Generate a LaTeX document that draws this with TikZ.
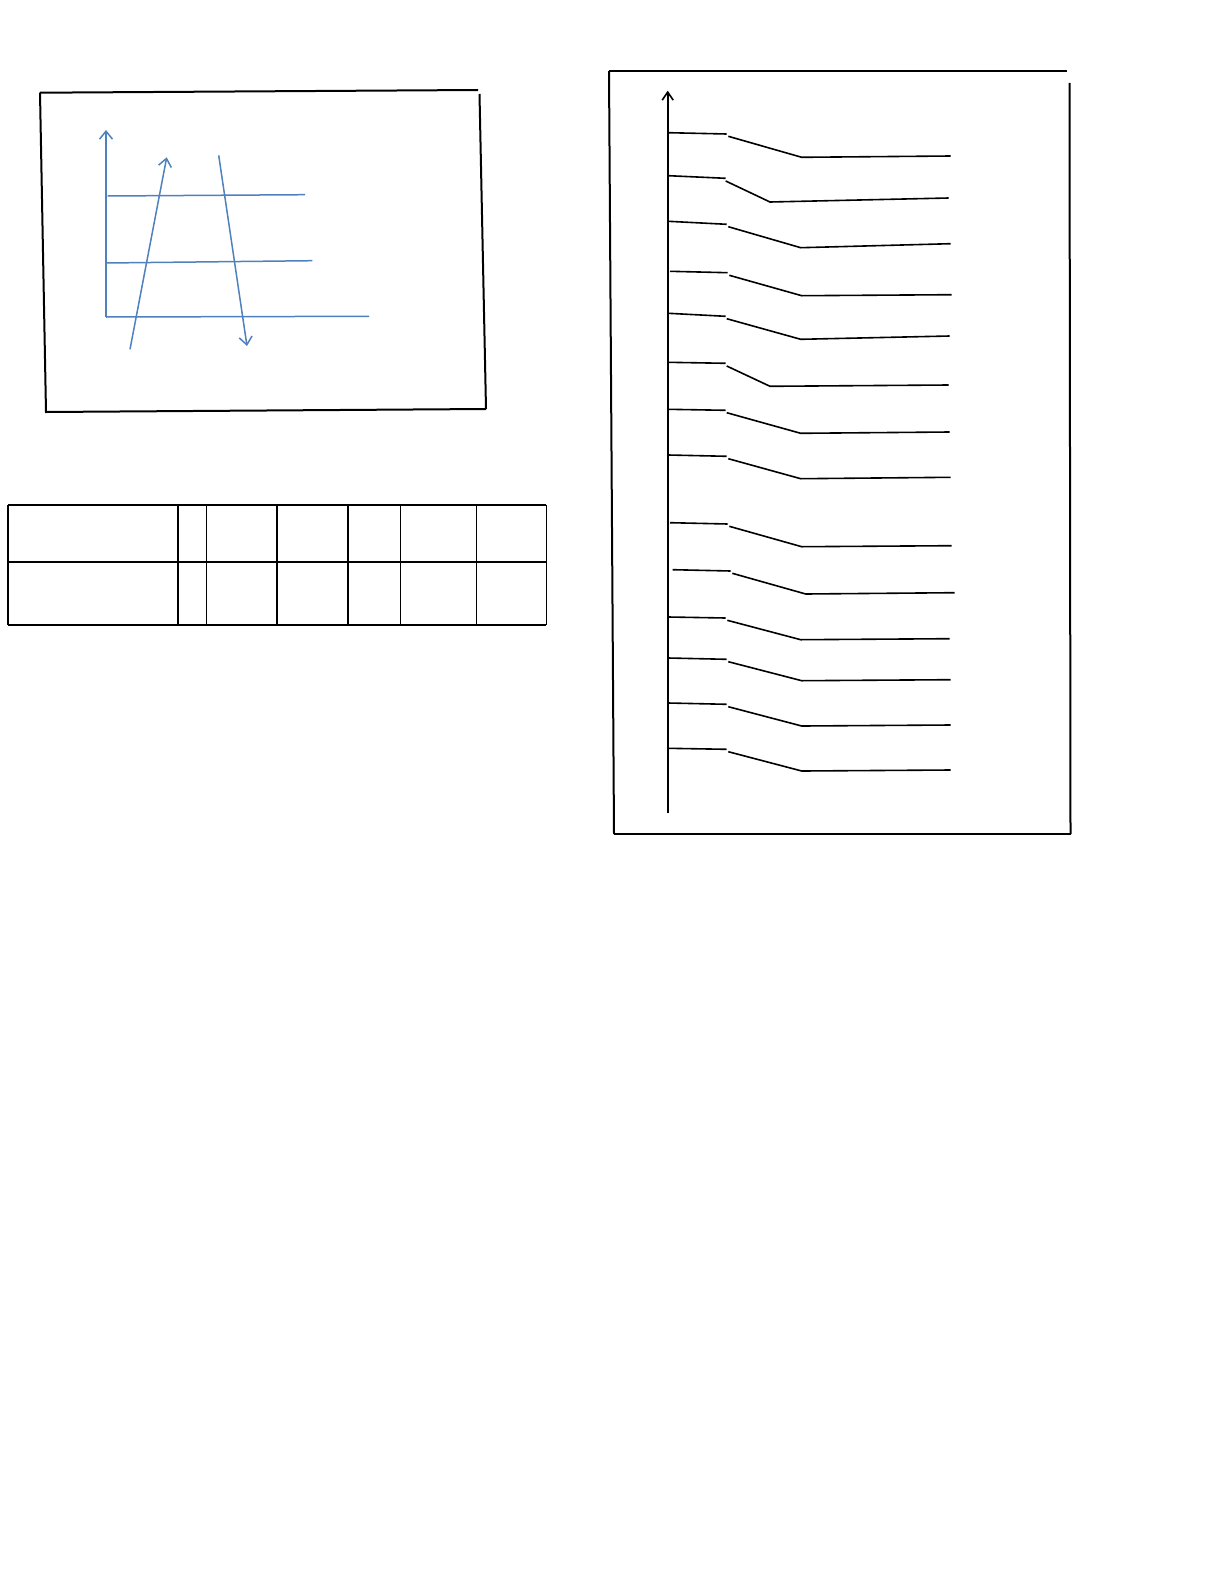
\documentclass[tikz,border=0pt]{standalone}
\usetikzlibrary{arrows.meta}
\definecolor{chartblue}{RGB}{79,129,189}
\tikzset{
  frame/.style={line width=1pt, black},
  grid/.style={line width=0.9pt, black},
  blueline/.style={line width=0.75pt, chartblue},
  bluearrow/.style={blueline, -{Straight Barb[length=4pt,width=6.5pt,line width=0.75pt]}},
  stepline/.style={line width=0.8pt, black},
  axisarrow/.style={line width=0.8pt, black, -{Straight Barb[length=4pt,width=5.5pt,line width=0.8pt]}}
}
\begin{document}
\begin{tikzpicture}[x=0.5pt,y=-0.5pt]
\useasboundingbox[fill=white] (0,0) rectangle (1224,1584);

% ---------- left framed chart ----------
\draw[frame] (40,92.7) -- (478,90);
\draw[frame] (479.5,94) -- (486,409);
\draw[frame] (486,409) -- (46,412) -- (40,92.7);

\coordinate (yb) at (106,317);
\coordinate (yt) at (106,130);
\coordinate (xe) at (369,316.3);
\draw[bluearrow] (yb) -- (yt);
\draw[blueline] (yb) -- (xe);
\coordinate (h1a) at (107.7,196);
\coordinate (h1b) at (305,194.7);
\coordinate (h2a) at (106,263);
\coordinate (h2b) at (312.3,260.7);
\draw[blueline] (h1a) -- (h1b);
\draw[blueline] (h2a) -- (h2b);
\coordinate (ua) at (130,349.3);
\coordinate (ub) at (166.7,157.3);
\coordinate (da) at (218.7,155.3);
\coordinate (db) at (247,346);
\draw[bluearrow] (ua) -- (ub);
\draw[bluearrow] (da) -- (db);

% ---------- table ----------
\foreach \y in {504.7,562.3,625.3}
  \draw[grid] (7.9,\y) -- (546.4,\y);
\foreach \x in {7.9,178.2,206.4,277.1,348.2,400.4,476.4,546.4}
  \draw[grid] (\x,504.7) -- (\x,625.3);

% ---------- right framed panel ----------
\draw[frame] (609,71) -- (1066.5,71);
\draw[frame] (609,71) -- (614,834);
\draw[frame] (614,834) -- (1070.5,834);
\draw[frame] (1069.5,82.8) -- (1070.5,834);

\coordinate (ab) at (667.7,813.3);
\coordinate (at) at (667.7,90.7);
\draw[axisarrow] (ab) -- (at);

% step lines: seg1 start, seg1 end, slant start, knee, end
\foreach \ax/\ay/\bx/\by/\cx/\cy/\kx/\ky/\ex/\ey in {
  668.3/132.7/726.7/134/728.3/136.3/801.7/157.3/950.7/156,
  668.3/175.7/725.7/178.3/725.7/181/770/202/948.7/198,
  668.3/221.3/726.7/224.3/728.3/226.7/800.7/247.7/950.7/243.7,
  670/271.3/727.7/272.7/729.3/275.3/801.7/295.7/951.7/294.7,
  668.3/313.3/725.7/316.3/726.7/318.7/800.7/339.3/949.7/336,
  668.3/362.3/725.7/363.3/726.7/366/770/386.3/948.7/385,
  668.3/409.3/725.7/410.3/726.7/412.7/800.7/433.3/949.7/432,
  668.3/455/726.7/456.3/728.3/458.7/800.7/478.7/950.7/477.3,
  670/522.7/727.7/524/729.3/526.3/801.7/546.7/951.7/545.7,
  672.7/569.7/730.7/571/732.3/573.3/805.7/594/954.7/592.7,
  668.3/617/725.7/618/727.3/620.3/800.7/639.7/949.7/638.7,
  668.3/658/726.7/659.3/728.3/661.7/801.7/680.7/950.7/679.7,
  668.3/703/726.7/704.3/728.3/706.7/801.7/726/950.7/725,
  668.3/748.3/726.7/749.3/728.3/751.7/801.7/771/950.7/770}
{
  \draw[stepline] (\ax,\ay) -- (\bx,\by);
  \draw[stepline] (\cx,\cy) -- (\kx,\ky) -- (\ex,\ey);
}
\end{tikzpicture}
\end{document}
